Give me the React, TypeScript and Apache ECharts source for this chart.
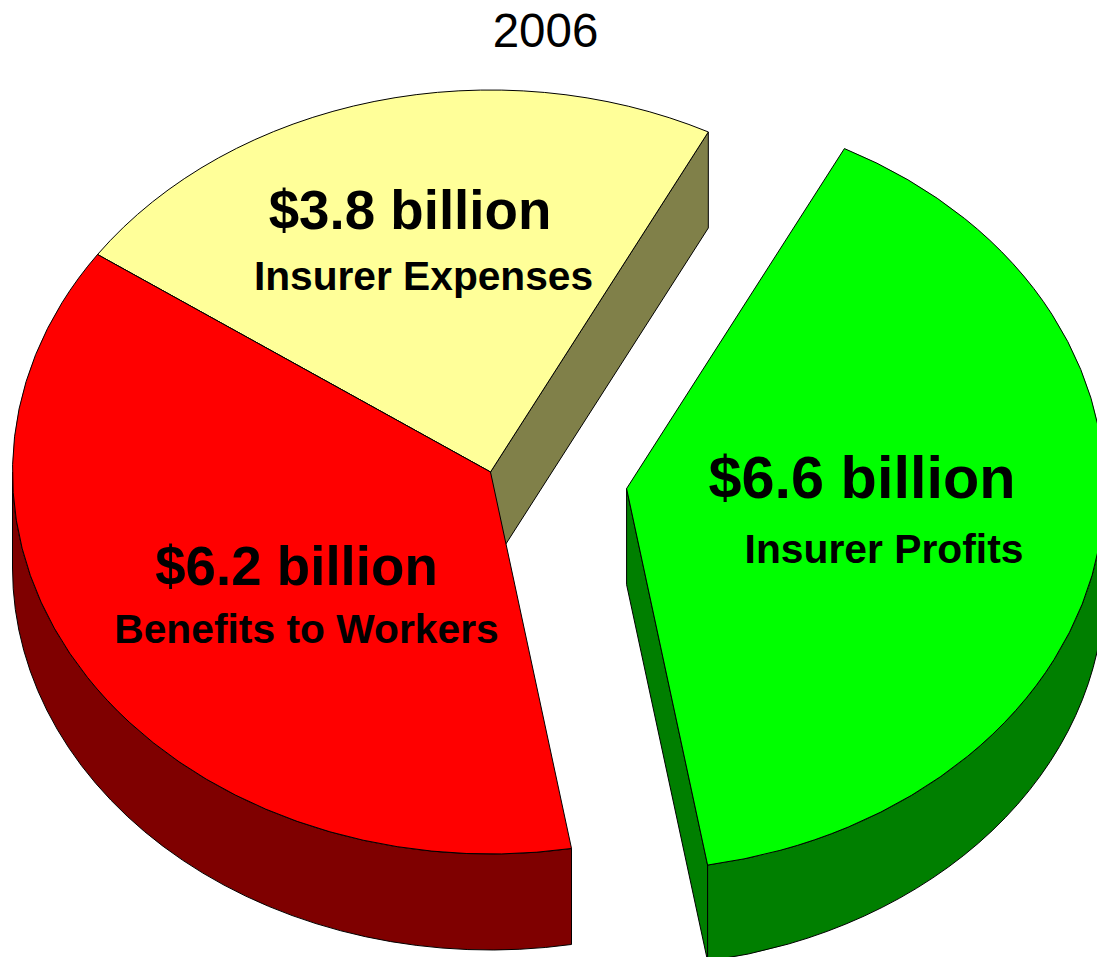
import React, { useEffect, useRef } from "react";
import * as echarts from "echarts";

const titleText = "2006";
const categories = ["Insurer Expenses", "Insurer Profits", "Benefits to Workers"];
const amounts = ["$3.8 billion", "$6.6 billion", "$6.2 billion"];
const values = [3.8, 6.6, 6.2];
const explode = [0, 0.288, 0];

const topColors = ["#FFFF99", "#00FF00", "#FF0000"];
const wallColors = ["#808049", "#007F00", "#7F0000"];

const CX = 490.5;
const CY = 472;
const RX = 478;
const RY = 382;
const DEPTH = 96;
const START_DEG = -55.3;
const FONT = '"Liberation Sans", Arial, sans-serif';

const amountPos = [
  { x: 410, y: 209.5, size: 54.7 },
  { x: 862, y: 477.5, size: 59.4 },
  { x: 296.5, y: 566, size: 54.7 },
];
const namePos = [
  { x: 423.5, y: 276, size: 40.7 },
  { x: 884, y: 548.5, size: 40.8 },
  { x: 306.5, y: 629, size: 40.8 },
];

const total = values.reduce((a, b) => a + b, 0);

function pt(cx: number, cy: number, deg: number, dy = 0): [number, number] {
  const r = (deg * Math.PI) / 180;
  return [cx + RX * Math.sin(r), cy - RY * Math.cos(r) + dy];
}

function arcTo(p: [number, number], spanDeg: number, sweep: number) {
  return `A ${RX} ${RY} 0 ${Math.abs(spanDeg) > 180 ? 1 : 0} ${sweep} ${p[0]} ${p[1]}`;
}

function sliceAngles(index: number) {
  let before = 0;
  for (let i = 0; i < index; i++) before += values[i];
  const a0 = START_DEG + (before / total) * 360;
  const a1 = a0 + (values[index] / total) * 360;
  return { a0, a1 };
}

function renderItem(params: any, api: any) {
  const i = params.dataIndex;
  const { a0, a1 } = sliceAngles(i);
  const mid = ((a0 + a1) / 2) * (Math.PI / 180);
  const k = explode[i];
  const cx = CX + k * RX * Math.sin(mid);
  const cy = CY - k * RY * Math.cos(mid);
  const stroke = { stroke: "#000", lineWidth: 1, lineJoin: "round" };
  const children: any[] = [];

  // radial wall at the clockwise end of the slice
  const e = pt(cx, cy, a1);
  const eD = pt(cx, cy, a1, DEPTH);
  children.push({
    type: "path",
    shape: { pathData: `M ${cx} ${cy} L ${e[0]} ${e[1]} L ${eD[0]} ${eD[1]} L ${cx} ${cy + DEPTH} Z` },
    style: { fill: wallColors[i], ...stroke },
  });

  // outer wall, only on the front half of the rim
  const w0 = Math.max(a0, 90);
  const w1 = Math.min(a1, 270);
  if (w1 > w0) {
    const p0 = pt(cx, cy, w0);
    const p1 = pt(cx, cy, w1);
    const q1 = pt(cx, cy, w1, DEPTH);
    const q0 = pt(cx, cy, w0, DEPTH);
    children.push({
      type: "path",
      shape: {
        pathData: `M ${p0[0]} ${p0[1]} ${arcTo(p1, w1 - w0, 1)} L ${q1[0]} ${q1[1]} ${arcTo(q0, w1 - w0, 0)} Z`,
      },
      style: { fill: wallColors[i], ...stroke },
    });
  }

  // top face
  const s = pt(cx, cy, a0);
  children.push({
    type: "path",
    shape: {
      pathData: `M ${cx} ${cy} L ${s[0]} ${s[1]} ${arcTo(e, a1 - a0, 1)} Z`,
    },
    style: { fill: topColors[i], ...stroke },
  });

  children.push({
    type: "text",
    z2: 10,
    style: {
      x: amountPos[i].x,
      y: amountPos[i].y,
      text: amounts[i],
      fill: "#000",
      font: `bold ${amountPos[i].size}px ${FONT}`,
      textAlign: "center",
      textVerticalAlign: "middle",
    },
  });
  children.push({
    type: "text",
    z2: 10,
    style: {
      x: namePos[i].x,
      y: namePos[i].y,
      text: categories[i],
      fill: "#000",
      font: `bold ${namePos[i].size}px ${FONT}`,
      textAlign: "center",
      textVerticalAlign: "middle",
    },
  });

  return { type: "group", children };
}

export default function App() {
  const ref = useRef<HTMLDivElement>(null);
  useEffect(() => {
    document.body.style.margin = "0";
    const chart = echarts.init(ref.current!, undefined, { renderer: "svg" });
    chart.setOption({
      animation: false,
      backgroundColor: "#fff",
      title: {
        text: titleText,
        left: 540.5,
        top: 1,
        textAlign: "center",
        textStyle: { fontFamily: FONT, fontSize: 47.5, fontWeight: "normal", color: "#000" },
      },
      series: [
        {
          type: "custom",
          coordinateSystem: "none",
          silent: true,
          clip: false,
          data: values.map((v, i) => ({ name: categories[i], value: [v] })),
          renderItem,
        },
      ],
    });
    return () => chart.dispose();
  }, []);
  return (
    <div
      ref={ref}
      style={{ position: "absolute", left: 0, top: 0, width: 1097, height: 957, overflow: "hidden" }}
    />
  );
}
